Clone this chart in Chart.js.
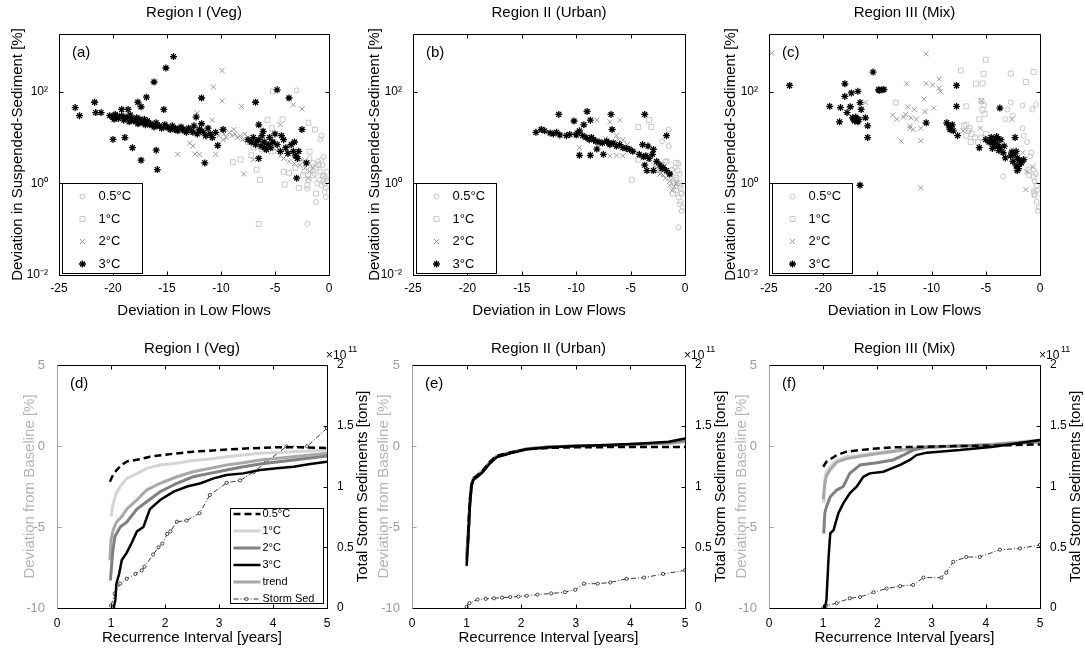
<!DOCTYPE html>
<html>
<head>
<meta charset="utf-8">
<title>Low flows, suspended sediment and storm sediments by region</title>
<script src="https://cdn.jsdelivr.net/npm/chart.js@4.4.1/dist/chart.umd.min.js"></script>
<style>
  html, body { margin: 0; padding: 0; background: #fff; }
  #fig { position: relative; width: 1085px; height: 652px; }
  #fig canvas { position: absolute; left: 0; top: 0; }
</style>
</head>
<body>
<div id="fig">
  <canvas id="pa" width="1085" height="652"></canvas>
  <canvas id="pb" width="1085" height="652"></canvas>
  <canvas id="pc" width="1085" height="652"></canvas>
  <canvas id="pd" width="1085" height="652"></canvas>
  <canvas id="pe" width="1085" height="652"></canvas>
  <canvas id="pf" width="1085" height="652"></canvas>
</div>
<script>
// ── top row: [deviation in low flows, deviation in suspended sediment %] ──
const warmingLabels = ['0.5°C', '1°C', '2°C', '3°C'];
const sedTicks = [0.01, 1, 100];
const sedTickLabels = ['10⁻²', '10⁰', '10²'];

const a05 = [[-3.0,107],[-0.7,11],[-0.8,9],[-0.7,3.2],[-2.0,0.76],[-1.2,0.39],[-2.0,0.13],
  [-1.8,3.5],[-1.5,2.8],[-1.2,2.2],[-1,3],[-0.8,1.8],[-0.6,2.5],[-0.5,1.4],[-0.4,1],[-0.3,0.8],
  [-1.3,1.6],[-0.9,1.2],[-0.2,1.8],[-0.5,3.8],[-1.7,2],[-0.3,0.5],[-0.4,0.65],[-0.7,0.9],[-0.2,1.1],
  [-1.1,1.0],[-2.3,1.8],[-0.6,1.5],[-0.3,1.3],[-0.9,2.6]];
const a1 = [[-5.2,102],[-5.7,24],[-4.3,25],[-5.3,16],[-1.9,21],[-1.3,15],[-8.9,2.9],[-8.2,3.3],
  [-7.2,4.1],[-6.7,2.0],[-6.4,1.2],[-4.2,1.8],[-3.7,1.7],[-4.1,0.95],[-6.5,0.13],[-1.8,4.9],[-1.9,1.2],
  [-7.5,8],[-7,6],[-6.6,7.5],[-6.2,5.5],[-5.8,6.5],[-5.4,5],[-5,6],
  [-2.8,0.8],[-2,0.9],[-1.5,1.5],[-1,2.5],[-0.5,1.2],[-3.1,2.2],[-2.4,1.5],[-1.2,0.6]];
const a2 = [[-9.9,290],[-10.7,127],[-9.9,63],[-8.1,48],[-3.3,52],[-2.5,42],[-4.5,19],[-14.0,4.3],
  [-12.4,4.4],[-10.5,4.3],[-7.9,1.6],[-7.0,3.3],[-12.2,34],[-10.8,24],[-1.9,1.3],[-12.9,7.6],[-12.6,6.5],[-12.0,4.3],
  [-10.5,13],[-10.2,11],[-10,14],[-9.7,12],[-9.5,10],[-9.2,13],[-9,11],[-8.7,12],[-8.5,10],[-8.2,11],
  [-8,9],[-7.8,12],[-7.5,10],[-8.8,15],[-9.8,9],[-11,11],[-11.5,10],[-12,12],
  [-4.8,5],[-4.5,4],[-4.2,3.5],[-4,5.5],[-3.7,3],[-3.5,4.5],[-3.2,2.7],[-3,3.5],[-2.7,2.5],[-2.5,3.2],
  [-2.2,2.2],[-2,2.8],[-1.8,1.8],[-1.5,2.2],[-5.2,6],[-5.6,7]];
const a3 = [[-14.4,585],[-15.1,330],[-16.2,163],[-16.9,76],[-17.7,59],[-23.5,45],[-23.1,30],[-21.7,59],
  [-21.6,35],[-21.1,35],[-20.0,9.1],[-18.9,10],[-18.2,6],[-17.4,3.2],[-16.0,5.3],[-15.9,2.0],[-15.3,41],
  [-11.8,73],[-6.8,59],[-4.8,110],[-3.7,73],[-6.5,19],[-6.1,13.7],[-10.3,6.7],[-11.5,2.8],[-6.5,3.5],
  [-3.0,1.3],[-2.5,15],[-2.1,2.8],[-9.8,15],[-12.3,28],[-17.4,47],[-19.2,41],[-18.6,41],
  [-20.3,30],[-20,28],[-19.8,32],[-19.5,26],[-19.2,30],[-19,24],[-18.7,28],[-18.5,22],[-18.3,26],[-18,24],
  [-17.7,20],[-17.5,25],[-17.2,22],[-17,19],[-16.8,23],[-16.5,20],[-16.2,17],[-16,21],[-15.7,18],[-15.5,16],
  [-15.2,19],[-15,17],[-14.7,15],[-14.5,18],[-14.2,16],[-14,14],[-13.7,17],[-13.5,15],[-13.2,13],[-13,16],
  [-12.7,14],[-12.5,18],[-12.2,12],[-12,15],[-11.8,20],[-11.6,13],[-11.4,11],[-11.2,16],[-11,12],[-10.8,10],
  [-10.5,13],[-19.6,29],[-18.9,27],[-18.1,23],[-17.3,21],[-16.6,19],[-15.9,18],[-15.1,17],[-14.3,15],
  [-13.4,14],[-12.6,13],[-11.9,14],[-19.9,25],[-18.4,31],[-17.8,27],[-17.1,25],
  [-7.5,9],[-7.2,8],[-7,10],[-6.8,7],[-6.5,9],[-6.3,6.5],[-6,8],[-5.8,5.5],[-5.6,7],[-5.4,6],[-5.2,8],
  [-5.5,10],[-6.2,11],[-5.0,12],[-6.7,8.5],[-6.0,6.0],
  [-4.8,7],[-4.5,5],[-4.2,9],[-4,6],[-3.8,4.5],[-3.5,7],[-3.3,5],[-3.1,4],[-2.9,3.5],[-3.2,8],[-4.4,11],[-2.8,5]];

const b05 = [[-1.5,15],[-2.1,8.3],[-1.5,6.5],[-0.6,2.7],[-0.5,1.6],[-0.5,0.35],[-0.6,0.11],[-1.3,1.4],
  [-1,1],[-0.8,0.7],[-0.6,0.5],[-0.4,0.4],[-0.3,0.6],[-0.2,0.3],[-0.8,1.2],[-1.2,2],[-0.5,0.9],[-1.8,3],
  [-0.3,0.25],[-0.9,2.2],[-0.4,0.8],[-0.7,1.0]];
const b1 = [[-3.3,24],[-4.3,17],[-3.1,17],[-4.9,1.2],[-4.3,3.3],[-0.8,2.8],[-0.7,1.9],[-1.1,0.6],
  [-1.4,1.6],[-1.7,3.0],[-2.0,2.5],[-0.8,1.3],[-0.5,1.0],[-2.6,2.0],[-1.0,1.1],[-0.4,0.6]];
const b2 = [[-8.1,24],[-6.9,22],[-6.0,24],[-9.7,6],[-6.9,4],[-6.3,4.1],[-5.7,4],[-6.3,11],[-5.7,9],
  [-5.1,6],[-4.2,4],[-3.3,3.2],[-2.4,1.9],[-2.0,1.5],[-1.4,1.1],[-1.0,0.85],[-0.8,1.0],[-2.3,1.6],
  [-1.4,0.9],[-6.1,9],[-4.6,5],[-3.8,3.6],[-2.8,2.4],[-1.8,1.3],[-1.2,0.7],[-7.3,9.5],[-10.3,12],[-5.3,7]];
const b3 = [[-13.7,13],[-13.2,15],[-12.4,12.6],[-11.5,11.4],[-10.6,11.7],[-10,11.4],[-9.4,11],[-8.8,9],
  [-8.2,8.3],[-7.6,7.6],[-6.9,7],[-6.3,6.5],[-5.7,6],[-5.1,5.5],[-4.2,4.3],[-3.6,4],[-3.3,3.5],[-2.9,5.5],
  [-3.0,4.3],[-2.3,2.5],[-1.7,1.9],[-1.4,1.6],[-11.8,13],[-10.9,11],[-9.7,14],[-9.1,10],[-8.4,9],
  [-7.2,8.3],[-6.6,7.6],[-6,7],[-12.9,14],[-12.1,12],[-9.9,12.5],[-8.6,10],[-7.9,8],[-7.0,7.5],[-5.4,5.8],
  [-4.8,5],[-3.8,3.8],[-2.6,3],[-2.0,2.2],
  [-11.6,32],[-9.0,37],[-10.2,23],[-8.7,24],[-9.3,19],[-6.8,32],[-6.7,15],[-9.7,4.1],[-8.7,4.1],
  [-7.5,4.3],[-8.1,5.6],[-3.7,32],[-1.7,11],[-3.7,2.5],[-3.5,1.9],[-3.4,6.5],[-3.9,7],[-2.9,1.9],[-2.1,2.1]];

const c05 = [[-2.7,58],[-1.6,50],[-0.7,41],[-0.4,52],[-3.0,41],[-3.2,25],[-1.6,16],[-1.5,11],[-3.4,1.4],
  [-0.8,4.7],[-0.9,3.9],[-0.6,2.0],[-0.5,1.1],[-0.6,0.67],[-0.5,0.55],[-0.3,0.7],[-1.0,1.5],[-0.2,0.25],
  [-0.3,0.4],[-0.1,0.3],[-2.5,30],[-1.2,8],[-0.4,1.6]];
const c1 = [[-5.0,500],[-7.3,290],[-5.2,245],[-2.7,250],[-0.6,270],[-1.3,163],[-5.9,149],[-5.3,152],
  [-13.3,58],[-6.8,48],[-5.4,63],[-5.3,40],[-5.6,25],[-6.8,19],[-6.5,16],[-6.8,11],[-6.4,8],[-7,18],
  [-6.6,14],[-6.3,12],[-6,10],[-5.7,8],[-5.4,10],[-5,12],[-1,2],[-0.6,1.4],[-0.3,0.9],[-0.5,0.6],
  [-5.2,52],[-5.1,33]];
const c2 = [[-24.75,690],[-10.5,670],[-12.3,149],[-10.5,152],[-9.9,140],[-9.3,190],[-9.2,102],[-10.7,69],
  [-12.2,47],[-11.6,41],[-10.6,37],[-9.8,44],[-16.1,58],[-13.6,31],[-13.2,25],[-12.6,28],[-11.9,27],
  [-11.4,25],[-12.0,16],[-11.7,15],[-11.0,16],[-12.8,8.3],[-11.0,8.5],[-11.0,0.8],[-5.4,63],[-2.6,25],
  [-5.5,16],[-2.6,5.5],[-1.6,4.7],[-1.2,1.8],[-1.3,0.73],[-0.7,2.3],[-7.1,14],[-12.4,32],[-12.0,18],
  [-9.3,120],[-5.0,10],[-4.0,6],[-3.0,4],[-2.0,3]];
const c3 = [[-23.1,137],[-15.4,268],[-18.0,149],[-17.4,94],[-16.8,102],[-18.0,79],[-19.4,48],[-18.4,45],
  [-17.5,47],[-16.6,58],[-16.5,41],[-17.8,35],[-17.0,28],[-17.2,25],[-16.8,22],[-18.5,22],[-16.1,27],
  [-15.9,18],[-15.9,10],[-14.9,110],[-14.6,110],[-16.6,0.91],[-7.7,137],[-7.7,48],[-10.5,21],[-8.6,21],
  [-8.2,16],[-8.0,14],[-7.6,11],[-3.7,44],[-5.6,6],[-5.0,9],[-4.4,7.6],[-4.1,6.5],[-3.6,9],[-3.3,6.5],
  [-3.4,4.7],[-3.8,5.2],[-2.3,10],[-2.4,4.3],[-2.1,3.6],[-1.9,2.6],[-2.0,2.1],[-1.5,3.3],[-3.2,3.6],
  [-17.0,26],[-16.9,24],[-17.1,23],[-16.7,25],[-17.3,27],[-14.8,108],[-14.4,112],[-8.4,18],[-8.1,19],
  [-8.3,15],[-4.7,8],[-4.5,10],[-4.2,8.5],[-3.9,7],[-2.6,4.8],[-2.2,5],
  [-4.5,8.2],[-4.2,7],[-3.9,9.5],[-3.7,6],[-4.4,5.8],[-4.0,10.5],
  [-2.7,4],[-2.5,3],[-2.2,2.4],[-1.9,3.2],[-2.1,1.9],[-1.7,2.8]];

// ── bottom row: [recurrence interval yr, deviation from baseline %] ──
const curveLabels = ['0.5°C', '1°C', '2°C', '3°C', 'trend'];
const d05 = [[0.98,-2.2],[1.02,-1.9],[1.1,-1.5],[1.2,-1.15],[1.3,-0.95],[1.48,-0.85],[1.72,-0.66],
  [2.04,-0.52],[2.52,-0.35],[3.0,-0.25],[3.5,-0.15],[4.07,-0.08],[4.5,-0.08],[5.0,-0.12]];
const d1 = [[1.0,-4.36],[1.02,-3.9],[1.04,-3.54],[1.1,-2.9],[1.17,-2.5],[1.29,-2.0],[1.48,-1.7],[1.66,-1.38],
  [1.91,-1.17],[2.22,-1.07],[2.52,-0.9],[2.83,-0.8],[3.14,-0.66],[3.45,-0.56],[3.76,-0.45],[4.38,-0.35],[5.0,-0.25]];
const d2 = [[0.99,-8.3],[1.03,-6.6],[1.07,-5.6],[1.17,-5.0],[1.29,-4.7],[1.48,-3.9],[1.66,-3.44],[1.91,-2.82],
  [2.22,-2.3],[2.52,-1.9],[2.83,-1.69],[3.14,-1.48],[3.45,-1.28],[3.76,-1.11],[4.38,-0.87],[5.0,-0.62]];
const d3 = [[1.05,-10],[1.08,-9.5],[1.1,-8.5],[1.15,-7.9],[1.2,-7.04],[1.29,-6.6],[1.38,-6.0],[1.48,-5.27],
  [1.6,-5.0],[1.72,-3.9],[1.91,-3.33],[2.16,-2.82],[2.41,-2.5],[2.66,-2.3],[2.9,-2.0],[3.14,-1.79],
  [3.45,-1.69],[3.76,-1.48],[4.07,-1.38],[4.38,-1.28],[4.69,-1.11],[5.0,-0.97]];
const dTrend = [[0.98,-7.04],[1.0,-5.8],[1.04,-5.2],[1.1,-4.7],[1.2,-4.36],[1.29,-3.9],[1.48,-3.33],[1.66,-2.72],
  [1.91,-2.3],[2.22,-1.9],[2.52,-1.59],[2.83,-1.38],[3.14,-1.17],[3.45,-1.03],[3.76,-0.87],[4.38,-0.66],[5.0,-0.45]];
// storm sediment totals, in units of 10^11 tons
const stormTicks = [0, 0.5, 1, 1.5, 2];
const dSed = [[1.0,0.02],[1.07,0.12],[1.17,0.20],[1.29,0.24],[1.45,0.28],[1.57,0.31],[1.62,0.34],[1.78,0.44],
  [1.88,0.50],[1.95,0.53],[2.04,0.61],[2.1,0.63],[2.22,0.71],[2.4,0.72],[2.64,0.78],[2.83,0.93],[3.14,1.03],
  [3.39,1.05],[3.64,1.12],[3.87,1.20],[4.25,1.33],[4.63,1.33],[5.0,1.48]];

const e05 = [[1.02,-6.0],[1.04,-4.5],[1.06,-3.3],[1.09,-2.4],[1.12,-2.0],[1.2,-1.8],[1.3,-1.5],[1.42,-1.0],
  [1.55,-0.6],[1.8,-0.4],[2.1,-0.2],[2.5,-0.12],[3.0,-0.08],[4.0,-0.06],[5.0,-0.06]];
const e1 = [[1.01,-6.5],[1.03,-5.2],[1.06,-3.4],[1.09,-2.35],[1.13,-1.95],[1.2,-1.8],[1.3,-1.5],[1.42,-1.0],
  [1.55,-0.62],[1.8,-0.4],[2.1,-0.17],[2.5,-0.05],[3.0,0.0],[3.6,0.04],[4.2,0.1],[4.7,0.16],[5.0,0.25]];
const e2 = [[1.0,-7.0],[1.03,-5.5],[1.06,-3.5],[1.09,-2.4],[1.13,-2.0],[1.2,-1.85],[1.3,-1.55],[1.42,-1.05],
  [1.55,-0.65],[1.8,-0.42],[2.1,-0.18],[2.5,-0.06],[3.0,0.0],[3.6,0.05],[4.2,0.12],[4.7,0.2],[5.0,0.35]];
const e3 = [[1.0,-7.4],[1.03,-5.8],[1.06,-3.7],[1.09,-2.5],[1.12,-2.1],[1.2,-1.9],[1.3,-1.6],[1.42,-1.1],
  [1.55,-0.7],[1.8,-0.45],[2.1,-0.2],[2.5,-0.08],[3.0,0.0],[3.6,0.06],[4.2,0.16],[4.7,0.26],[5.0,0.47]];
const eTrend = [[1.0,-6.8],[1.03,-5.4],[1.06,-3.45],[1.09,-2.4],[1.13,-1.98],[1.2,-1.82],[1.3,-1.52],[1.42,-1.02],
  [1.55,-0.64],[1.8,-0.41],[2.1,-0.18],[2.5,-0.06],[3.0,0.0],[3.6,0.05],[4.2,0.11],[4.7,0.18],[5.0,0.3]];
const eSed = [[1.0,0.01],[1.05,0.04],[1.2,0.07],[1.35,0.075],[1.5,0.08],[1.65,0.085],[1.8,0.09],[1.95,0.095],
  [2.1,0.1],[2.3,0.11],[2.55,0.12],[2.8,0.13],[2.99,0.15],[3.15,0.2],[3.4,0.2],[3.63,0.21],[3.93,0.24],
  [4.25,0.25],[4.6,0.28],[5.0,0.31]];

const f05 = [[1.0,-1.28],[1.06,-0.97],[1.25,-0.56],[1.43,-0.35],[1.68,-0.25],[1.99,-0.15],[2.29,-0.08],
  [2.91,-0.04],[3.52,0.0],[4.14,0.02],[5.0,0.1]];
const f1 = [[1.01,-3.54],[1.03,-2.1],[1.05,-1.69],[1.13,-1.28],[1.25,-0.86],[1.43,-0.66],[1.68,-0.56],
  [1.99,-0.41],[2.29,-0.29],[2.6,-0.15],[2.91,-0.04],[3.52,0.0],[4.14,0.12],[5.0,0.37]];
const f2 = [[1.01,-5.4],[1.03,-4.15],[1.06,-3.75],[1.13,-3.13],[1.25,-2.72],[1.37,-2.5],[1.49,-1.69],
  [1.68,-1.17],[1.99,-1.03],[2.29,-0.86],[2.48,-0.56],[2.66,-0.25],[2.91,-0.08],[3.52,0.0],[4.14,0.06],[5.0,0.27]];
const f3 = [[1.03,-10],[1.06,-9.5],[1.1,-6.83],[1.13,-5.39],[1.19,-5.2],[1.28,-4.15],[1.37,-3.54],[1.49,-2.92],
  [1.62,-2.5],[1.74,-1.9],[1.86,-1.69],[2.11,-1.59],[2.42,-1.17],[2.6,-0.86],[2.72,-0.56],[2.91,-0.41],
  [3.52,-0.25],[4.14,-0.04],[5.0,0.37]];
const fTrend = [[1.0,-3.3],[1.03,-2.3],[1.06,-1.85],[1.13,-1.45],[1.25,-1.0],[1.43,-0.78],[1.68,-0.64],
  [1.99,-0.48],[2.29,-0.34],[2.6,-0.18],[2.91,-0.06],[3.52,0.0],[4.14,0.1],[5.0,0.32]];
const fSed = [[1.0,0.0],[1.06,0.02],[1.25,0.04],[1.49,0.08],[1.68,0.09],[1.93,0.13],[2.17,0.16],[2.42,0.18],
  [2.66,0.19],[2.85,0.25],[3.18,0.25],[3.27,0.29],[3.4,0.38],[3.64,0.42],[3.89,0.42],[4.26,0.48],[4.63,0.49],[5.0,0.52]];

// ── styling ──
const FONT = "'Liberation Sans', Arial, Helvetica, sans-serif";
Chart.defaults.font.family = FONT;
Chart.defaults.color = '#000';

const POINT_STYLE = [
  { pointStyle: 'circle',   pointRadius: 2.5, pointBorderColor: '#c4c4c4', pointBorderWidth: 1,   order: 3 },
  { pointStyle: 'rect',     pointRadius: 3.5, pointBorderColor: '#c8c8c8', pointBorderWidth: 1,   order: 2 },
  { pointStyle: 'crossRot', pointRadius: 3.5, pointBorderColor: '#9a9a9a', pointBorderWidth: 1,   order: 1 },
  { pointStyle: 'star',     pointRadius: 3.5, pointBorderColor: '#000',    pointBorderWidth: 1.3, order: 0 },
];
const CURVE_STYLE = [
  { borderColor: '#000',    borderWidth: 2.5, borderDash: [7, 4], order: 0 },
  { borderColor: '#d4d4d4', borderWidth: 3,   borderDash: [],     order: 4 },
  { borderColor: '#808080', borderWidth: 3,   borderDash: [],     order: 2 },
  { borderColor: '#000',    borderWidth: 2.5, borderDash: [],     order: 1 },
  { borderColor: '#a8a8a8', borderWidth: 3,   borderDash: [],     order: 3 },
];

const toXY = pts => pts.map(([x, y]) => ({ x, y }));

function _seg(ctx, x1, y1, x2, y2) { ctx.beginPath(); ctx.moveTo(x1, y1); ctx.lineTo(x2, y2); ctx.stroke(); }

function _marker(ctx, ds, x, y) {
  const opts = { pointStyle: ds.pointStyle, radius: ds.pointRadius, borderWidth: ds.pointBorderWidth, rotation: 0 };
  Chart.helpers.drawPoint(ctx, opts, x, y);
}

function _pointLegend(chart, a) {
  const ctx = chart.ctx;
  const x0 = Math.round(a.left) + 3.5, y0 = Math.round(a.top) + 149.5;
  const w = 80, h = Math.round(a.bottom) - Math.round(a.top) - 151;
  ctx.fillStyle = '#fff'; ctx.fillRect(x0, y0, w, h);
  ctx.strokeStyle = '#000'; ctx.lineWidth = 1; ctx.setLineDash([]); ctx.strokeRect(x0, y0, w, h);
  chart.data.datasets.forEach((ds, i) => {
    const y = y0 + 13 + i * 22.5;
    ctx.strokeStyle = ds.pointBorderColor; ctx.fillStyle = 'rgba(0,0,0,0)'; ctx.lineWidth = ds.pointBorderWidth;
    _marker(ctx, ds, x0 + 20, y);
    ctx.fillStyle = '#000'; ctx.font = '13px ' + FONT; ctx.textAlign = 'left'; ctx.textBaseline = 'middle';
    ctx.fillText(ds.label, x0 + 36, y);
  });
}

function _lineLegend(chart, a) {
  const ctx = chart.ctx;
  const x0 = Math.round(a.left) + 173.5, y0 = Math.round(a.top) + 143.5, w = 93, h = 95;
  ctx.fillStyle = '#fff'; ctx.fillRect(x0, y0, w, h);
  ctx.strokeStyle = '#000'; ctx.lineWidth = 1; ctx.setLineDash([]); ctx.strokeRect(x0, y0, w, h);
  chart.data.datasets.forEach((ds, i) => {
    const y = y0 + 5.5 + i * 17;
    ctx.strokeStyle = ds.borderColor; ctx.lineWidth = ds.borderWidth; ctx.setLineDash(ds.borderDash || []);
    _seg(ctx, x0 + 3, y, x0 + 30, y);
    ctx.setLineDash([]);
    if (ds.pointRadius) {
      ctx.fillStyle = ds.pointBackgroundColor; ctx.strokeStyle = ds.pointBorderColor; ctx.lineWidth = ds.pointBorderWidth;
      _marker(ctx, ds, x0 + 16, y);
    }
    ctx.fillStyle = '#000'; ctx.font = '11px ' + FONT; ctx.textAlign = 'left'; ctx.textBaseline = 'middle';
    ctx.fillText(ds.label, x0 + 32, y);
  });
}

// frame, inward ticks, panel letter, legend, right-hand title
const decoPlugin = {
  id: 'deco',
  afterDatasetsDraw(chart, args, o) {
    const { ctx, chartArea: a, scales } = chart;
    const px = v => Math.round(v) + 0.5;
    const L = px(a.left), R = px(a.right), T = px(a.top), B = px(a.bottom);
    const TL = 4;
    ctx.save();
    ctx.lineWidth = 1; ctx.setLineDash([]);
    ctx.strokeStyle = '#000';
    scales.x.ticks.forEach(t => { const p = px(scales.x.getPixelForValue(t.value)); _seg(ctx, p, B, p, B - TL); _seg(ctx, p, T, p, T + TL); });
    ctx.strokeStyle = o.leftColor;
    scales.y.ticks.forEach(t => {
      const p = px(scales.y.getPixelForValue(t.value));
      _seg(ctx, L, p, L + TL, p);
      if (!scales.y2) _seg(ctx, R, p, R - TL, p);
    });
    if (scales.y2) {
      ctx.strokeStyle = '#000';
      scales.y2.ticks.forEach(t => { const p = px(scales.y2.getPixelForValue(t.value)); _seg(ctx, R, p, R - TL, p); });
    }
    ctx.strokeStyle = '#000';
    _seg(ctx, L, T, R, T); _seg(ctx, R, T, R, B); _seg(ctx, L, B, R, B);
    ctx.strokeStyle = o.leftColor; _seg(ctx, L, T, L, B);

    ctx.fillStyle = '#000'; ctx.font = '15px ' + FONT; ctx.textAlign = 'left'; ctx.textBaseline = 'middle';
    ctx.fillText(o.letter, a.left + 13, a.top + 19);

    if (o.legend === 'points') _pointLegend(chart, a);
    if (o.legend === 'lines') _lineLegend(chart, a);

    if (o.rightTitle) {
      ctx.fillStyle = '#000'; ctx.textAlign = 'left'; ctx.textBaseline = 'middle';
      ctx.font = '12px ' + FONT; ctx.fillText('×10', a.right - 1, a.top - 9);
      ctx.font = '9px ' + FONT;  ctx.fillText('11', a.right + 21, a.top - 15);
      ctx.save();
      ctx.translate(a.right + 36, (a.top + a.bottom) / 2);
      ctx.rotate(-Math.PI / 2);
      ctx.font = '15px ' + FONT; ctx.textAlign = 'center';
      ctx.fillText(o.rightTitle, 0, 0);
      ctx.restore();
    }
    ctx.restore();
  }
};

function scatterPanel(id, title, letter, chartLeft, chartRight, yTitleX, sets) {
  const padLeft = yTitleX - 9;
  const yWidth = chartLeft - padLeft;
  return new Chart(document.getElementById(id), {
    type: 'scatter',
    data: {
      datasets: sets.map((pts, i) => ({
        label: warmingLabels[i],
        data: toXY(pts),
        pointBackgroundColor: 'rgba(0,0,0,0)',
        ...POINT_STYLE[i],
      })),
    },
    options: {
      responsive: false, animation: false, devicePixelRatio: 1,
      layout: { padding: { left: padLeft, right: 1085 - chartRight, top: 0, bottom: 332 } },
      plugins: {
        legend: { display: false }, tooltip: { enabled: false },
        title: { display: true, text: title, fullSize: false, color: '#000',
          font: { size: 15, weight: 'normal', lineHeight: 1 }, padding: { top: 5, bottom: 14 } },
        deco: { letter, leftColor: '#000', legend: 'points' },
      },
      scales: {
        x: {
          type: 'linear', position: 'bottom', min: -25, max: 0,
          ticks: { stepSize: 5, maxRotation: 0, autoSkip: false, padding: 0, color: '#000', font: { size: 12, lineHeight: 1 } },
          grid: { display: false }, border: { display: false },
          title: { display: true, text: 'Deviation in Low Flows', color: '#000', font: { size: 15, lineHeight: 1.2 }, padding: { top: 0, bottom: 0 } },
          afterFit: s => { s.height = 45; },
        },
        y: {
          type: 'logarithmic', position: 'left', min: 0.01, max: 1820,
          afterBuildTicks: s => { s.ticks = sedTicks.map(v => ({ value: v })); },
          ticks: { padding: 3, color: '#000', font: { size: 12 }, callback: v => sedTickLabels[sedTicks.indexOf(v)] },
          grid: { display: false }, border: { display: false },
          title: { display: true, text: 'Deviation in Suspended-Sediment [%]', color: '#000', font: { size: 15, lineHeight: 1.2 }, padding: { top: 0, bottom: 0 } },
          afterFit: s => { s.width = yWidth; },
        },
      },
    },
    plugins: [decoPlugin],
  });
}

function curvePanel(id, title, letter, chartLeft, chartRight, yTitleX, curves, sed, legend) {
  const padLeft = yTitleX - 9;
  const yWidth = chartLeft - padLeft;
  const datasets = curves.map((pts, i) => ({
    label: curveLabels[i], data: toXY(pts), yAxisID: 'y',
    showLine: true, fill: false, tension: 0, pointRadius: 0, ...CURVE_STYLE[i],
  }));
  datasets.push({
    label: 'Storm Sed', data: toXY(sed), yAxisID: 'y2', showLine: true, fill: false, tension: 0,
    borderColor: '#000', borderWidth: 0.8, borderDash: [5, 2, 1, 2],
    pointStyle: 'circle', pointRadius: 1.6, pointBorderColor: '#000', pointBackgroundColor: '#fff', pointBorderWidth: 0.7,
    order: 5,
  });
  return new Chart(document.getElementById(id), {
    type: 'scatter',
    data: { datasets },
    options: {
      responsive: false, animation: false, devicePixelRatio: 1,
      layout: { padding: { left: padLeft, right: 1085 - chartRight - 30, top: 336, bottom: 5 } },
      plugins: {
        legend: { display: false }, tooltip: { enabled: false },
        title: { display: true, text: title, fullSize: false, color: '#000',
          font: { size: 15, weight: 'normal', lineHeight: 1 }, padding: { top: 5, bottom: 9 } },
        deco: { letter, leftColor: '#a0a0a0', legend: legend ? 'lines' : null, rightTitle: 'Total Storm Sediments [tons]' },
      },
      scales: {
        x: {
          type: 'linear', position: 'bottom', min: 0, max: 5,
          ticks: { stepSize: 1, maxRotation: 0, autoSkip: false, padding: 2, color: '#000', font: { size: 12, lineHeight: 1 } },
          grid: { display: false }, border: { display: false },
          title: { display: true, text: 'Recurrence Interval [years]', color: '#000', font: { size: 15, lineHeight: 1.2 }, padding: { top: 0, bottom: 0 } },
          afterFit: s => { s.height = 39; },
        },
        y: {
          type: 'linear', position: 'left', min: -10, max: 5,
          ticks: { stepSize: 5, padding: 4, color: '#9a9a9a', font: { size: 13 } },
          grid: { display: false }, border: { display: false },
          title: { display: true, text: 'Deviation from Baseline [%]', color: '#b4b4b4', font: { size: 15, lineHeight: 1.2 }, padding: { top: 0, bottom: 0 } },
          afterFit: s => { s.width = yWidth; },
        },
        y2: {
          type: 'linear', position: 'right', min: 0, max: 2,
          afterBuildTicks: s => { s.ticks = stormTicks.map(v => ({ value: v })); },
          ticks: { padding: 2, color: '#000', font: { size: 12 }, callback: v => String(v) },
          grid: { display: false }, border: { display: false },
          afterFit: s => { s.width = 30; },
        },
      },
    },
    plugins: [decoPlugin],
  });
}

scatterPanel('pa', 'Region I (Veg)',     '(a)', 59,  329,  18,  [a05, a1, a2, a3]);
scatterPanel('pb', 'Region II (Urban)',  '(b)', 413, 685,  375, [b05, b1, b2, b3]);
scatterPanel('pc', 'Region III (Mix)',   '(c)', 769, 1040, 731, [c05, c1, c2, c3]);

curvePanel('pd', 'Region I (Veg)',    '(d)', 57,  327,  30,  [d05, d1, d2, d3, dTrend], dSed, true);
curvePanel('pe', 'Region II (Urban)', '(e)', 412, 685,  384, [e05, e1, e2, e3, eTrend], eSed, false);
curvePanel('pf', 'Region III (Mix)',  '(f)', 769, 1040, 742, [f05, f1, f2, f3, fTrend], fSed, false);
</script>
</body>
</html>
